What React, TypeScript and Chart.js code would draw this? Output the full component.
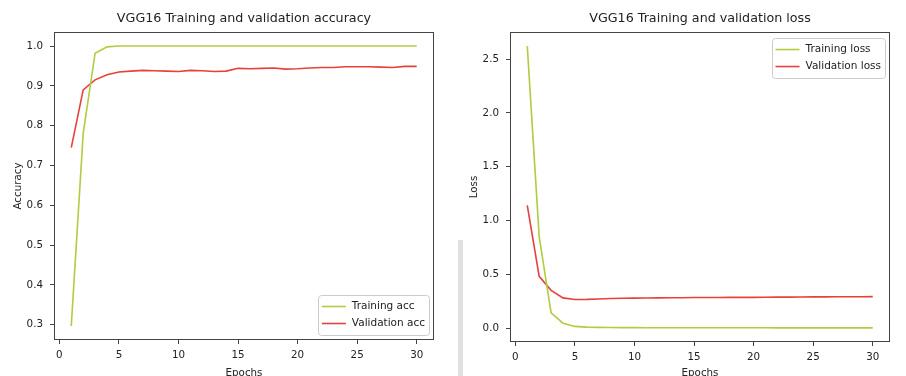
import React, { useEffect, useRef } from "react";
import { Chart, registerables } from "chart.js";

Chart.register(...registerables);

const epochs = [1, 2, 3, 4, 5, 6, 7, 8, 9, 10, 11, 12, 13, 14, 15, 16, 17, 18, 19, 20, 21, 22, 23, 24, 25, 26, 27, 28, 29, 30];

const trainAcc = [0.297, 0.78, 0.982, 0.998, 1.0, 1.0, 1.0, 1.0, 1.0, 1.0, 1.0, 1.0, 1.0, 1.0, 1.0, 1.0, 1.0, 1.0, 1.0, 1.0, 1.0, 1.0, 1.0, 1.0, 1.0, 1.0, 1.0, 1.0, 1.0, 1.0];
const valAcc = [0.745, 0.89, 0.915, 0.928, 0.935, 0.937, 0.939, 0.938, 0.937, 0.936, 0.939, 0.938, 0.936, 0.937, 0.944, 0.943, 0.944, 0.945, 0.942, 0.943, 0.945, 0.946, 0.946, 0.948, 0.948, 0.948, 0.947, 0.946, 0.949, 0.949];

const trainLoss = [2.62, 0.85, 0.14, 0.045, 0.015, 0.008, 0.006, 0.005, 0.004, 0.004, 0.003, 0.003, 0.003, 0.003, 0.002, 0.002, 0.002, 0.002, 0.002, 0.002, 0.002, 0.001, 0.001, 0.001, 0.001, 0.001, 0.001, 0.001, 0.001, 0.001];
const valLoss = [1.14, 0.48, 0.35, 0.28, 0.265, 0.266, 0.27, 0.274, 0.276, 0.278, 0.279, 0.28, 0.281, 0.282, 0.283, 0.284, 0.284, 0.285, 0.285, 0.285, 0.286, 0.287, 0.287, 0.288, 0.289, 0.289, 0.29, 0.29, 0.291, 0.292];

const accTicks = [0.3, 0.4, 0.5, 0.6, 0.7, 0.8, 0.9, 1.0];
const lossTicks = [0.0, 0.5, 1.0, 1.5, 2.0, 2.5];
const epochTicks = [0, 5, 10, 15, 20, 25, 30];

const TRAIN_COLOR = "#b0cc40";
const VAL_COLOR = "#e8403a";
const TEXT = "#222222";
const SPINE = "#444444";
const FONT = "'DejaVu Sans', sans-serif";

const framePlugin = {
  id: "frame",
  afterDraw(chart: any) {
    const { ctx, chartArea: a } = chart;
    ctx.save();
    ctx.strokeStyle = SPINE;
    ctx.lineWidth = 1;
    ctx.strokeRect(Math.round(a.left) + 0.5, Math.round(a.top) + 0.5, Math.round(a.right - a.left) - 1, Math.round(a.bottom - a.top) - 1);
    ctx.restore();
  },
};

const boxLegendPlugin = {
  id: "boxLegend",
  afterDraw(chart: any, _args: any, opts: any) {
    const { ctx, chartArea: a } = chart;
    const sets = chart.data.datasets;
    ctx.save();
    ctx.font = `10.5px ${FONT}`;
    let tw = 0;
    sets.forEach((d: any) => { tw = Math.max(tw, ctx.measureText(d.label).width); });
    const padX = 4;
    const sample = 24;
    const gap = 6;
    const rowH = 17;
    const w = padX + sample + gap + tw + padX;
    const h = rowH * sets.length + 6;
    const x = a.right - 5 - w;
    const y = opts.corner === "br" ? a.bottom - 5 - h : a.top + 6;
    ctx.fillStyle = "rgba(255,255,255,0.85)";
    ctx.strokeStyle = "#cccccc";
    ctx.lineWidth = 1;
    ctx.beginPath();
    ctx.roundRect(Math.round(x) + 0.5, Math.round(y) + 0.5, Math.round(w), Math.round(h), 3);
    ctx.fill();
    ctx.stroke();
    sets.forEach((d: any, i: number) => {
      const cy = y + 3 + rowH * i + rowH / 2;
      ctx.strokeStyle = d.borderColor;
      ctx.lineWidth = 1.6;
      ctx.beginPath();
      ctx.moveTo(x + padX, cy);
      ctx.lineTo(x + padX + sample, cy);
      ctx.stroke();
      ctx.fillStyle = TEXT;
      ctx.textBaseline = "middle";
      ctx.textAlign = "left";
      ctx.fillText(d.label, x + padX + sample + gap, cy);
    });
    ctx.restore();
  },
};

function range(values: number[]) {
  const mn = Math.min(...values);
  const mx = Math.max(...values);
  const m = (mx - mn) * 0.05;
  return { min: mn - m, max: mx + m };
}

function makeConfig(title: string, yLabel: string, labels: string[], series: number[][], yTicks: number[], corner: string, xAxisHeight: number): any {
  const all = series.flat();
  const yr = range(all);
  const xr = range(epochs);
  const colors = [TRAIN_COLOR, VAL_COLOR];
  return {
    type: "line",
    data: {
      datasets: series.map((s, k) => ({
        label: labels[k],
        data: epochs.map((e, i) => ({ x: e, y: s[i] })),
        borderColor: colors[k],
        backgroundColor: colors[k],
        borderWidth: 1.6,
        pointRadius: 0,
        tension: 0,
        fill: false,
      })),
    },
    options: {
      responsive: false,
      animation: false,
      devicePixelRatio: 1,
      layout: { padding: { left: 0, right: 19, top: 0, bottom: 0 } },
      plugins: {
        legend: { display: false },
        tooltip: { enabled: false },
        title: {
          display: true,
          text: title,
          fullSize: false,
          color: TEXT,
          font: { family: FONT, size: 12.7, weight: "normal" },
          padding: { top: 11.5, bottom: 5.3 },
        },
        boxLegend: { corner },
      },
      scales: {
        x: {
          type: "linear",
          min: xr.min,
          max: xr.max,
          afterFit: (s: any) => { s.height = xAxisHeight; },
          afterBuildTicks: (s: any) => { s.ticks = epochTicks.map((v) => ({ value: v })); },
          ticks: {
            color: TEXT,
            font: { family: FONT, size: 10.3 },
            padding: 5,
            maxRotation: 0,
            autoSkip: false,
            callback: (v: any) => String(v),
          },
          grid: { display: true, drawOnChartArea: false, drawTicks: true, tickLength: 4, tickColor: SPINE, tickWidth: 1 },
          border: { display: false },
          title: { display: true, text: "Epochs", color: TEXT, font: { family: FONT, size: 10.3 }, padding: { top: 0, bottom: -4 } },
        },
        y: {
          type: "linear",
          min: yr.min,
          max: yr.max,
          afterFit: (s: any) => { s.width = 54; },
          afterBuildTicks: (s: any) => { s.ticks = yTicks.map((v) => ({ value: v })); },
          ticks: {
            color: TEXT,
            font: { family: FONT, size: 10.3 },
            padding: 7,
            autoSkip: false,
            callback: (v: any) => Number(v).toFixed(1),
          },
          grid: { display: true, drawOnChartArea: false, drawTicks: true, tickLength: 4, tickColor: SPINE, tickWidth: 1 },
          border: { display: false },
          title: { display: true, text: yLabel, color: TEXT, font: { family: FONT, size: 10.3 }, padding: { top: 12, bottom: 0 } },
        },
      },
    },
    plugins: [framePlugin, boxLegendPlugin],
  };
}

function ChartCanvas({ config, left }: { config: any; left: number }) {
  const ref = useRef<HTMLCanvasElement | null>(null);
  useEffect(() => {
    if (!ref.current) return;
    const chart = new Chart(ref.current, config);
    return () => chart.destroy();
  }, [config]);
  return (
    <canvas
      ref={ref}
      width={453}
      height={376}
      style={{ position: "absolute", left, top: 0, width: 453, height: 376 }}
    />
  );
}

const accConfig = makeConfig("VGG16 Training and validation accuracy", "Accuracy", ["Training acc", "Validation acc"], [trainAcc, valAcc], accTicks, "br", 36);
const lossConfig = makeConfig("VGG16 Training and validation loss", "Loss", ["Training loss", "Validation loss"], [trainLoss, valLoss], lossTicks, "tr", 34);

export default function App() {
  return (
    <div style={{ position: "fixed", left: 0, top: 0, width: 906, height: 376, background: "#ffffff", overflow: "hidden" }}>
      <ChartCanvas config={accConfig} left={0} />
      <div style={{ position: "absolute", left: 458, top: 240, width: 5, height: 136, background: "#e0e0e0" }} />
      <ChartCanvas config={lossConfig} left={456} />
    </div>
  );
}
